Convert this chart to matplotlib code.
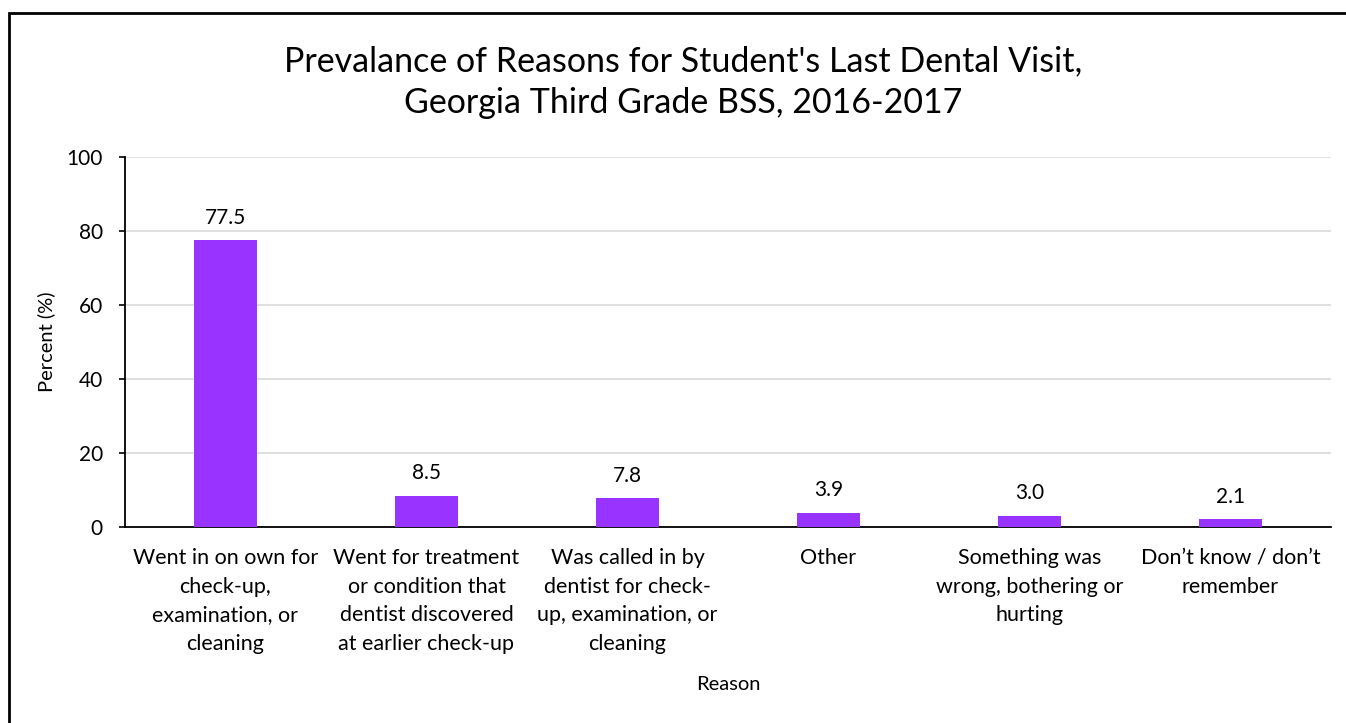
import matplotlib.pyplot as plt
from matplotlib.patches import Rectangle

plt.rcParams['font.family'] = ['Lato', 'DejaVu Sans']

reasons = [
    'Went in on own for\ncheck-up,\nexamination, or\ncleaning',
    'Went for treatment\nor condition that\ndentist discovered\nat earlier check-up',
    'Was called in by\ndentist for check-\nup, examination, or\ncleaning',
    'Other',
    'Something was\nwrong, bothering or\nhurting',
    'Don\u2019t know / don\u2019t\nremember',
]
percent = [77.5, 8.5, 7.8, 3.9, 3.0, 2.1]
y_ticks = [0, 20, 40, 60, 80, 100]

bar_color = '#9933ff'

fig = plt.figure(figsize=(13.46, 7.23), dpi=100)
ax = fig.add_axes([125 / 1346, 1 - 527 / 723, 1206 / 1346, 370 / 723])

x = range(len(reasons))
bars = ax.bar(x, percent, width=0.313, color=bar_color, zorder=3)
for b, v in zip(bars, percent):
    ax.annotate(f'{v:.1f}', (b.get_x() + b.get_width() / 2, v),
                xytext=(0, 9), textcoords='offset points',
                ha='center', va='bottom', fontsize=15)

ax.set_xlim(-0.5, len(reasons) - 0.5)
ax.set_ylim(0, 100)
ax.set_yticks(y_ticks)
ax.tick_params(axis='y', labelsize=15, length=4, width=1.2, direction='out', pad=12)
ax.set_xticks(list(x))
ax.set_xticklabels(reasons, fontsize=15.5, linespacing=1.55, va='top')
ax.tick_params(axis='x', length=0, pad=15)
ax.yaxis.grid(True, color='#d9d9d9', linewidth=1.2, zorder=0)
ax.set_axisbelow(True)

for side in ['top', 'right']:
    ax.spines[side].set_visible(False)
ax.spines['left'].set_linewidth(1.3)
ax.spines['bottom'].set_linewidth(1.3)

ax.set_ylabel('Percent (%)', fontsize=14.5, labelpad=8)
fig.text(0.5 * (125 + 1331) / 1346, 1 - 684 / 723, 'Reason',
         ha='center', va='center', fontsize=14.5)

fig.text(683 / 1346, 1 - 82 / 723,
         "Prevalance of Reasons for Student's Last Dental Visit,\nGeorgia Third Grade BSS, 2016-2017",
         ha='center', va='center', fontsize=24.5, linespacing=1.38)

# outer chart border
fig.patches.append(Rectangle((9 / 1346, -0.2), 1.2, 1.2 - 13 / 723,
                             transform=fig.transFigure, fill=False,
                             edgecolor='black', linewidth=2))

fig.savefig('out.png', dpi=100)
